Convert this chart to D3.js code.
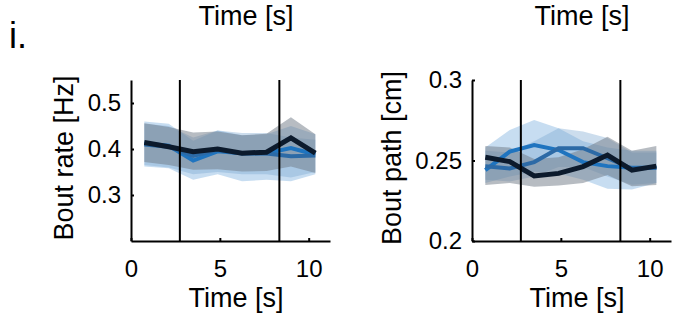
<!DOCTYPE html>
<html><head><meta charset="utf-8">
<script src="https://cdn.jsdelivr.net/npm/d3@7/dist/d3.min.js"></script>
<style>
html,body{margin:0;padding:0;background:#fff;}
text{font-family:"Liberation Sans",Arial,Helvetica,sans-serif;fill:#000;}
</style></head>
<body>
<svg id="c" width="686" height="328"></svg>
<script>
const timePoints = [0.75, 2.125, 3.5, 4.875, 6.25, 7.625, 9.0, 10.375];
const xTicks = [0, 5, 10];
const eventTimes = [2.75, 8.35];

// Panel 1: bout rate
const rateYTicks = [0.3, 0.4, 0.5];
const rateBlack   = [0.414, 0.405, 0.394, 0.400, 0.391, 0.393, 0.424, 0.391];
const rateBlackLo = [0.372, 0.365, 0.355, 0.356, 0.351, 0.352, 0.362, 0.348];
const rateBlackHi = [0.456, 0.448, 0.436, 0.438, 0.430, 0.433, 0.469, 0.432];
const rateBlue    = [0.412, 0.407, 0.375, 0.395, 0.391, 0.391, 0.402, 0.388];
const rateBlueLo  = [0.362, 0.358, 0.333, 0.345, 0.330, 0.333, 0.330, 0.345];
const rateBlueHi  = [0.460, 0.455, 0.418, 0.440, 0.430, 0.432, 0.450, 0.432];
const rateSteel   = [0.410, 0.405, 0.385, 0.398, 0.390, 0.390, 0.384, 0.386];
const rateSteelLo = [0.365, 0.360, 0.345, 0.350, 0.345, 0.345, 0.338, 0.350];
const rateSteelHi = [0.455, 0.450, 0.425, 0.440, 0.435, 0.435, 0.425, 0.420];

// Panel 2: bout path
const pathYTicks = [0.2, 0.25, 0.3];
const pathBlack   = [0.2520, 0.2493, 0.2404, 0.2420, 0.2462, 0.2534, 0.2440, 0.2465];
const pathBlackLo = [0.2348, 0.2360, 0.2337, 0.2345, 0.2360, 0.2410, 0.2340, 0.2348];
const pathBlackHi = [0.2590, 0.2580, 0.2510, 0.2520, 0.2570, 0.2648, 0.2560, 0.2590];
const pathBlue    = [0.2440, 0.2555, 0.2596, 0.2565, 0.2490, 0.2465, 0.2455, 0.2455];
const pathBlueLo  = [0.2360, 0.2400, 0.2430, 0.2420, 0.2380, 0.2325, 0.2320, 0.2360];
const pathBlueHi  = [0.2580, 0.2690, 0.2752, 0.2700, 0.2620, 0.2580, 0.2560, 0.2560];
const pathSteel   = [0.2465, 0.2450, 0.2490, 0.2576, 0.2576, 0.2514, 0.2450, 0.2455];
const pathSteelLo = [0.2380, 0.2370, 0.2400, 0.2460, 0.2460, 0.2400, 0.2350, 0.2360];
const pathSteelHi = [0.2560, 0.2550, 0.2620, 0.2700, 0.2680, 0.2640, 0.2550, 0.2550];

const svg = d3.select("#c");

svg.append("text").attr("x", 9).attr("y", 48).attr("font-size", 36).text("i.");

function panel(cfg) {
  const x = d3.scaleLinear().domain([0, 11.2]).range([cfg.left, cfg.left + 199]);
  const y = d3.scaleLinear().domain(cfg.yDomain).range([241, 80]);
  const g = svg.append("g");

  const series = [
    {m: cfg.blue, lo: cfg.blueLo, hi: cfg.blueHi, fill: "#8fbbe3", fo: 0.5, stroke: "#1f74bf", sw: 4},
    {m: cfg.steel, lo: cfg.steelLo, hi: cfg.steelHi, fill: "#7aa6d0", fo: 0.38, stroke: "#2c6aa6", sw: 4},
    {m: cfg.black, lo: cfg.blackLo, hi: cfg.blackHi, fill: "#6f7a85", fo: 0.5, stroke: "#0c1a2c", sw: 5}
  ];
  const area = (s) => d3.area().x((d, i) => x(timePoints[i])).y0((d, i) => y(s.lo[i])).y1((d, i) => y(s.hi[i]));
  const line = d3.line().x((d, i) => x(timePoints[i])).y(d => y(d));
  series.forEach(s => {
    g.append("path").datum(s.m).attr("d", area(s)).attr("fill", s.fill).attr("fill-opacity", s.fo);
  });
  series.forEach(s => {
    g.append("path").datum(s.m).attr("d", line).attr("fill", "none")
      .attr("stroke", s.stroke).attr("stroke-width", s.sw).attr("stroke-linejoin", "miter");
  });
  eventTimes.forEach(t => {
    g.append("line").attr("x1", x(t)).attr("x2", x(t)).attr("y1", 241).attr("y2", 80)
      .attr("stroke", "#000").attr("stroke-width", 2);
  });

  // axes
  const xa = g.append("g").attr("transform", "translate(0,241)")
    .call(d3.axisBottom(x).tickValues(xTicks).tickSizeInner(-3).tickSizeOuter(0).tickPadding(9));
  xa.select(".domain").attr("stroke-width", 2);
  xa.selectAll(".tick line").attr("stroke-width", 2);
  xa.selectAll("text").attr("font-size", 24).attr("dy", "0.71em").attr("y", 19);
  const ya = g.append("g").attr("transform", `translate(${cfg.left},0)`)
    .call(d3.axisLeft(y).tickValues(cfg.yTicks).tickSizeInner(-3).tickSizeOuter(0).tickPadding(10)
      .tickFormat(d3.format("~g")));
  ya.select(".domain").attr("stroke-width", 2);
  ya.selectAll(".tick line").attr("stroke-width", 2);
  ya.selectAll("text").attr("font-size", 24).attr("x", -10);
  g.selectAll(".domain").attr("stroke", "#000");

  const cx = cfg.left + 99;
  g.append("text").attr("x", cx + cfg.titleShift).attr("y", 25).attr("text-anchor", "middle").attr("font-size", 27).text("Time [s]");
  g.append("text").attr("x", cx + 6).attr("y", 307).attr("text-anchor", "middle").attr("font-size", 27).text("Time [s]");
  g.append("text").attr("transform", `translate(${cfg.ylabX},158) rotate(-90)`)
    .attr("text-anchor", "middle").attr("font-size", 27).text(cfg.ylabel);
}

panel({left: 131, yDomain: [0.2, 0.55], yTicks: rateYTicks, ylabel: "Bout rate [Hz]", ylabX: 73, titleShift: 16,
  black: rateBlack, blackLo: rateBlackLo, blackHi: rateBlackHi,
  blue: rateBlue, blueLo: rateBlueLo, blueHi: rateBlueHi,
  steel: rateSteel, steelLo: rateSteelLo, steelHi: rateSteelHi});
panel({left: 472, yDomain: [0.2, 0.3], yTicks: pathYTicks, ylabel: "Bout path [cm]", ylabX: 401, titleShift: 11,
  black: pathBlack, blackLo: pathBlackLo, blackHi: pathBlackHi,
  blue: pathBlue, blueLo: pathBlueLo, blueHi: pathBlueHi,
  steel: pathSteel, steelLo: pathSteelLo, steelHi: pathSteelHi});
</script>
</body></html>
